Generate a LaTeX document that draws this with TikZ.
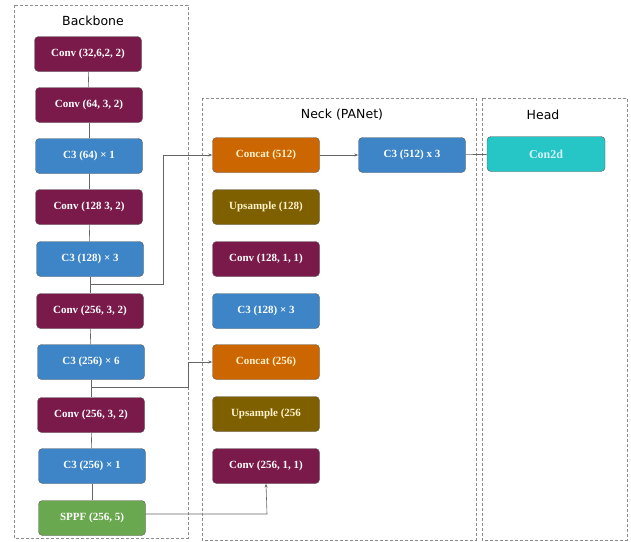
\documentclass[tikz,border=0pt]{standalone}
\usepackage{fontspec}
\setmainfont{Liberation Serif}
\newfontfamily\titlefont{DejaVu Sans}
\usetikzlibrary{arrows.meta}
\definecolor{convcol}{RGB}{122,26,74}
\definecolor{cthreecol}{RGB}{61,133,198}
\definecolor{concatcol}{RGB}{204,102,0}
\definecolor{upcol}{RGB}{127,96,0}
\definecolor{sppfcol}{RGB}{106,168,79}
\definecolor{headcol}{RGB}{38,198,198}
\definecolor{paletext}{RGB}{255,242,204}
\begin{document}
\begin{tikzpicture}[x=1pt, y=-1pt, >={Stealth[length=4pt, width=3pt]},
block/.style={draw=black!65, rounded corners=4pt, minimum width=107pt, minimum height=35pt, inner sep=0, text=white, font=\bfseries\fontsize{11}{12}\selectfont},
conv/.style={block, fill=convcol},
cthree/.style={block, fill=cthreecol},
concat/.style={block, fill=concatcol, text=paletext},
upsample/.style={block, fill=upcol, text=paletext},
sppf/.style={block, fill=sppfcol},
detect/.style={block, fill=headcol, minimum width=118pt, text=white!85!cyan, font=\bfseries\fontsize{12}{13}\selectfont},
stage/.style={draw=black!45, dash pattern=on 3pt off 2pt},
link/.style={draw=black!60, line width=0.6pt},
title/.style={font=\titlefont\fontsize{12.5}{14}\selectfont}]
\useasboundingbox (0,0) rectangle (631,541);
%%%%%%%%%%%%%%%%%%%%%%% STAGES %%%%%%%%%%%%%%%%%%%%%%%%%%%
\draw[stage] (14,5) rectangle (188,538);
\draw[stage] (202,98) rectangle (476,540);
\draw[stage] (482,98) rectangle (627,540);
\node[title] (tBack) at (93,21) {Backbone};
\node[title] (tNeck) at (342,115) {Neck (PANet)};
\node[title] (tHead) at (543,115) {Head};
%%%%%%%%%%%%%%%%%%%%%%% BACKBONE %%%%%%%%%%%%%%%%%%%%%%%%%%%
\node[conv]  (b1)  at (88,54)  {Conv (32,6,2, 2)};
\node[conv]  (b2)  at (89,105) {Conv (64, 3, 2)};
\node[cthree](b3)  at (89,156) {C3 (64) × 1};
\node[conv]  (b4)  at (89,207) {Conv (128 3, 2)};
\node[cthree](b5)  at (90,259) {C3 (128) × 3};
\node[conv]  (b6)  at (90,311) {Conv (256, 3, 2)};
\node[cthree](b7)  at (91,362) {C3 (256) × 6};
\node[conv]  (b8)  at (91,415) {Conv (256, 3, 2)};
\node[cthree](b9)  at (92,466) {C3 (256) × 1};
\node[sppf]  (b10) at (92,518) {SPPF (256, 5)};
\foreach \a/\b in {b1/b2,b2/b3,b3/b4,b4/b5,b5/b6,b6/b7,b7/b8,b8/b9,b9/b10}
  \draw[link] (\a) -- (\b);
%%%%%%%%%%%%%%%%%%%%%%% NECK %%%%%%%%%%%%%%%%%%%%%%%%%%%
\node[concat]  (n1) at (266,155) {Concat (512)};
\node[upsample](n2) at (266,207) {Upsample (128)};
\node[conv]    (n3) at (266,259) {Conv (128, 1, 1)};
\node[cthree]  (n4) at (266,311) {C3 (128) × 3};
\node[concat]  (n5) at (266,362) {Concat (256)};
\node[upsample](n6) at (266,414) {Upsample (256};
\node[conv]    (n7) at (266,466) {Conv (256, 1, 1)};
\node[cthree]  (n8) at (412,155) {C3 (512) x 3};
%%%%%%%%%%%%%%%%%%%%%%% HEAD %%%%%%%%%%%%%%%%%%%%%%%%%%%
\node[detect]  (h1) at (546,154) {Con2d};
%%%%%%%%%%%%%%%%%%%%%%% SKIP CONNECTIONS %%%%%%%%%%%%%%%%%%%%%%%%%%%
\coordinate (S1) at (90,284);
\coordinate (T1) at (163,284);
\coordinate (S2) at (91,387);
\coordinate (T2) at (188,387);
\coordinate (T3) at (267,514);
\draw[link, ->] (S1) -- (T1) |- (n1.west);
\draw[link, ->] (S2) -- (T2) |- (n5.west);
\draw[link, ->] (b10.east |- T3) -- (T3) -- (n7.south);
\draw[link, ->] (n1) -- (n8);
\draw[link] (n8) -- (h1);
\end{tikzpicture}
\end{document}
